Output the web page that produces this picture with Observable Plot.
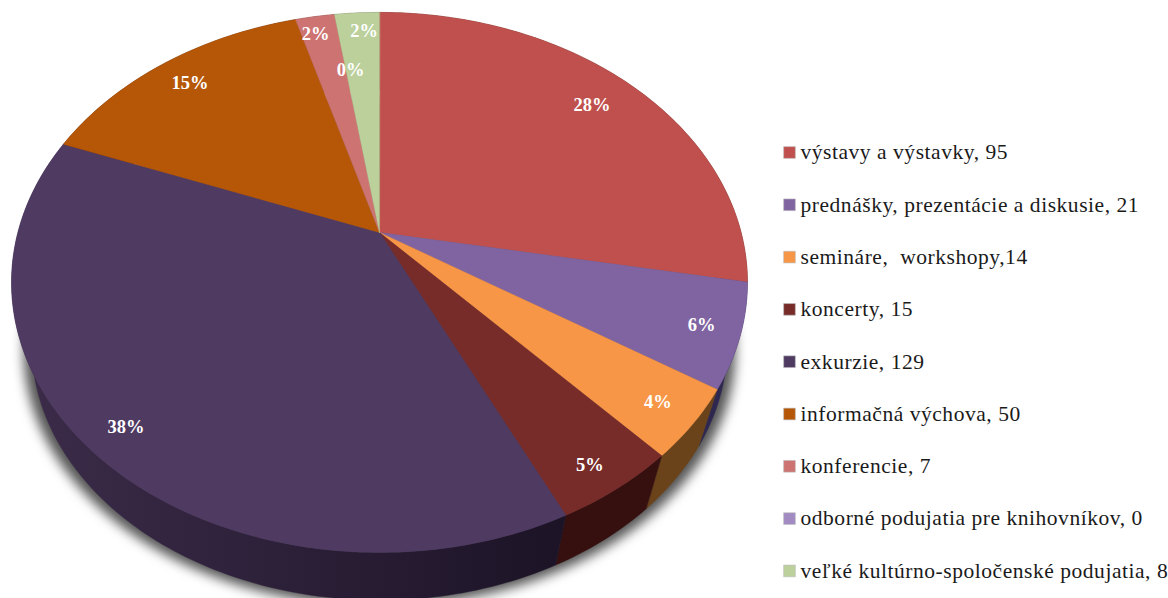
<!DOCTYPE html>
<html>
<head>
<meta charset="utf-8">
<style>html,body{margin:0;padding:0;background:#fff}svg{display:block}</style>
<script src="https://cdn.jsdelivr.net/npm/d3@7"></script>
<script src="https://cdn.jsdelivr.net/npm/@observablehq/plot@0.6"></script>
</head>
<body>
<script>
const categories = ["výstavy a výstavky","prednášky, prezentácie a diskusie","semináre,  workshopy","koncerty","exkurzie","informačná výchova","konferencie","odborné podujatia pre knihovníkov","veľké kultúrno-spoločenské podujatia"];
// slice sizes (the "koncerty" wedge reads as about 16, and it is labelled 5%)
const values = [95,21,14,16,129,50,7,0,8];
const legendLabels = ["výstavy a výstavky, 95","prednášky, prezentácie a diskusie, 21","semináre,  workshopy,14","koncerty, 15","exkurzie, 129","informačná výchova, 50","konferencie, 7","odborné podujatia pre knihovníkov, 0","veľké kultúrno-spoločenské podujatia, 8"];
const percentLabels = ["28%","6%","4%","5%","38%","15%","2%","0%","2%"];
const labelRadius = [0.84,0.9,0.9,0.913,0.899,0.87,0.907,0.712,0.905];
const labelTurn = [0,0,0,0.7,0.4,0,-0.9,1.2,1.1];
const topColors = ["#c0504d","#8064a2","#f79646","#772c2a","#4f3a62","#b65708","#cd7371","#a28bc2","#bbd09b"];
const wallColors = ["#5c2624","#2e2850","#6a431b","#360f0f","url(#wallGrad)","#5a2b04","#663938","#4f4460","#5c664c"];

// perspective of the tilted pie and the depth of its side wall
const tilt = 0.185, wallScale = 0.945, vanishY = -4.555;
const total = d3.sum(values);
const project = (theta, r = 1) => {
  const u = r * Math.sin(theta), v = r * Math.cos(theta), w = 1 + tilt * v;
  return [u / w, v / w];
};
const lower = ([px, py]) => [px * wallScale, vanishY + (py - vanishY) * wallScale];

const starts = Array.from(d3.cumsum([0, ...values])).map(c => c / total * 2 * Math.PI);
const arc = i => {
  const a = starts[i], b = starts[i + 1], n = Math.max(1, Math.ceil((b - a) / (Math.PI / 180)));
  return d3.range(n + 1).map(k => project(a + (b - a) * k / n));
};
const toRow = (name, color) => ([x, y]) => ({name, color, x, y});

const topRows = categories.flatMap((name, i) =>
  values[i] === 0 ? [] : [[0, 0], ...arc(i)].map(toRow(name, topColors[i])));
const wallRows = categories.flatMap((name, i) => {
  if (values[i] === 0) return [];
  const rim = arc(i);
  return [...rim, ...rim.map(lower).reverse()].map(toRow(name, wallColors[i]));
});
const fullRim = d3.range(0, 360, 2).map(d => project(d * Math.PI / 180));
const shadowRows = fullRim.map(p => lower(p)).map(([x, y]) => ({name: "shadow", x: x * 1.022, y: y - 0.02}));
const labelRows = categories.map((name, i) => {
  const [x, y] = project((starts[i] + starts[i + 1]) / 2 + labelTurn[i] * Math.PI / 180, labelRadius[i]);
  return {name, x, y, text: percentLabels[i]};
});

// chart frame: pie units to page
const sx = 361.6, sy = 260.8, cx = 379, cy = 232, W = 1168, H = 598;
const xOf = px => (px - cx) / sx, yOf = py => (cy - py) / sy;
const legendRows = legendLabels.map((text, i) => ({
  text, color: topColors[i], sx: xOf(789), tx: xOf(800), y: yOf(152 + 52.3 * i)
}));

const chart = Plot.plot({
  width: W, height: H, margin: 0,
  x: {domain: [xOf(0), xOf(W)], range: [0, W], axis: null},
  y: {domain: [yOf(0), yOf(H)], range: [0, H], axis: null},
  color: {type: "identity"},
  marks: [
    Plot.line(shadowRows, {x: "x", y: "y", z: "name", fill: "#555", stroke: "#555", strokeWidth: 1, curve: "linear-closed"}),
    Plot.line(wallRows, {x: "x", y: "y", z: "name", fill: "color", stroke: "color", strokeWidth: 0.4, curve: "linear-closed"}),
    Plot.line(topRows, {x: "x", y: "y", z: "name", fill: "color", stroke: "color", strokeWidth: 0.4, curve: "linear-closed"}),
    Plot.text(labelRows, {x: "x", y: "y", text: "text", fill: "#fff", fontSize: 18.5, fontWeight: "bold", fontFamily: "Liberation Serif"}),
    Plot.dot(legendRows, {x: "sx", y: "y", symbol: "square", r: 6.6, fill: "color", stroke: "#bbb", strokeWidth: 0.6}),
    Plot.text(legendRows, {x: "tx", y: "y", text: "text", textAnchor: "start", fill: "#1a1a1a", fontSize: 21.5, fontFamily: "Liberation Serif"})
  ]
});

const svg = d3.select(chart);
const grad = svg.insert("defs", ":first-child").append("linearGradient").attr("id", "wallGrad").attr("x1", 0).attr("x2", 1).attr("y1", 0).attr("y2", 0);
grad.append("stop").attr("offset", "0").attr("stop-color", "#3c2c4a");
grad.append("stop").attr("offset", "1").attr("stop-color", "#1c1326");
d3.select(svg.selectAll('g[aria-label="line"]').nodes()[0]).style("filter", "blur(6px)");
d3.select(svg.selectAll('g[aria-label="text"]').nodes()[1]).style("letter-spacing", "0.54px");
document.body.appendChild(chart);
</script>
</body>
</html>
